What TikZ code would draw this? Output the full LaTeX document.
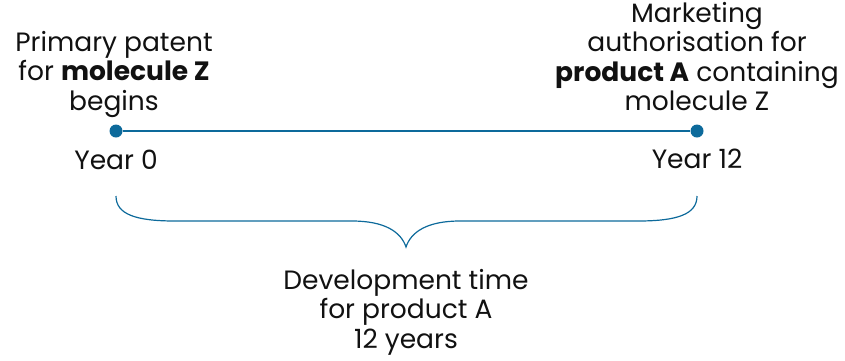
\documentclass[tikz,border=0pt]{standalone}
\usepackage{fontspec}
\setmainfont{Poppins}
\definecolor{lineblue}{HTML}{0D6A9B}
\definecolor{txt}{HTML}{111111}
\begin{document}
\begin{tikzpicture}[x=1pt,y=-1pt,
  lbl/.style={align=center,text=txt,inner sep=0pt,font=\fontsize{26.5}{29.5}\selectfont},
  dot/.style={circle,fill=lineblue,inner sep=0pt,minimum size=13pt},
  tl/.style={draw=lineblue,line width=2.6pt},
  brace/.style={draw=lineblue,line width=1.2pt}]
\useasboundingbox (0,0) rectangle (845,360);
\node[dot] (d0) at (116,131) {};
\node[dot] (d12) at (697,131) {};
\draw[tl] (d0) -- (d12);
\node[lbl,anchor=base] (y0) at (116,169) {Year 0};
\node[lbl,anchor=base] (y12) at (697,168) {Year 12};
\node[lbl,anchor=north] (pat) at (114,31) {Primary patent\\for \textbf{molecule Z}\\begins};
\node[lbl,anchor=north] (ma) at (697,2) {Marketing\\authorisation for\\\textbf{product A} containing\\molecule Z};
\coordinate (bl) at (116,196);
\coordinate (br) at (697,196);
\coordinate (tip) at (406,247);
\draw[brace] (bl) .. controls (116,214) and (135,221) .. (175,221) -- (352,221)
  .. controls (385,221) and (401,232) .. (tip)
  .. controls (411,232) and (427,221) .. (460,221) -- (638,221)
  .. controls (678,221) and (697,214) .. (br);
\node[lbl,anchor=north] (dev) at (406,269) {Development time\\for product A\\12 years};
\end{tikzpicture}
\end{document}
